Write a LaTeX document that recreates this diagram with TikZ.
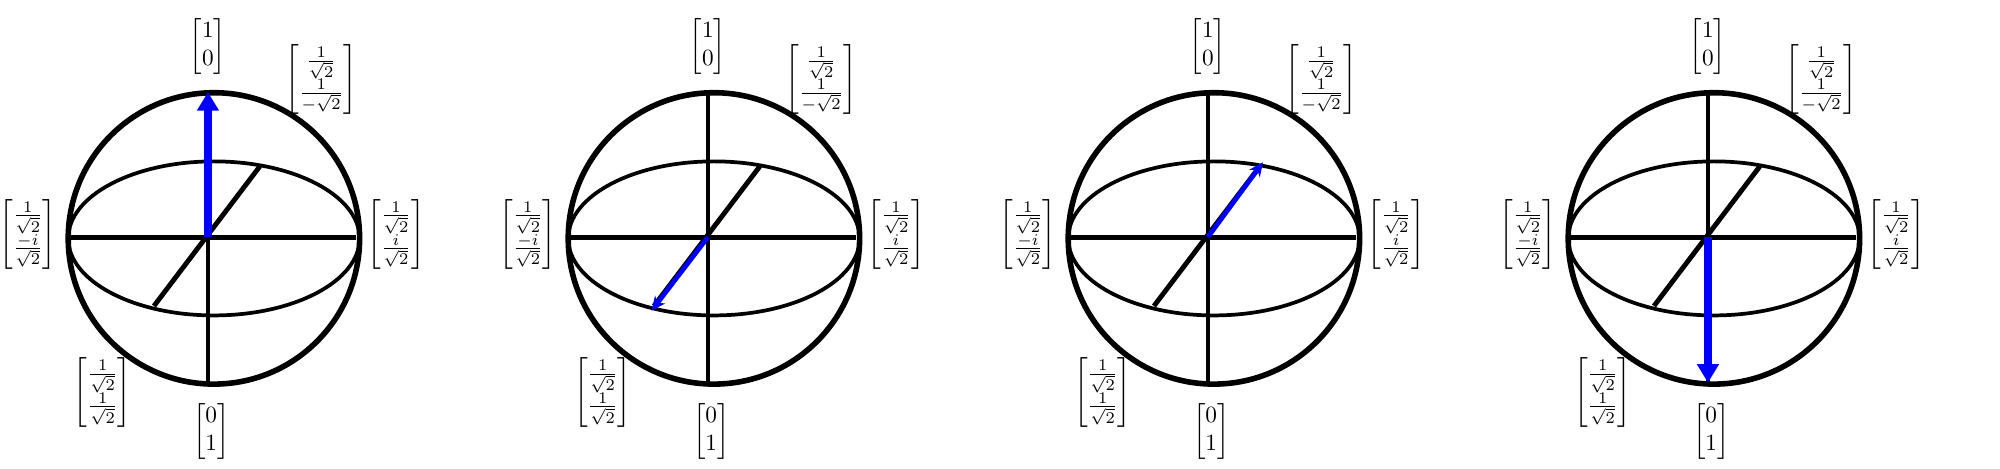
\documentclass[tikz,border=0pt]{standalone}
\usepackage{amssymb, amsmath}
\usepackage{tikz}
\usetikzlibrary{arrows.meta}
\newcommand*{\rad}{2.2}

\begin{document}
\begin{tikzpicture}[
   sphere/.style={draw=black, line width=2.4pt},
   equator/.style={draw=black, line width=1.6pt},
   axis/.style={draw=black, line width=2.1pt},
   vecbig/.style={blue, line width=3.4pt, -{Triangle[length=8pt, width=9pt]}},
   vecsmall/.style={blue, line width=2pt, -{Stealth[length=6pt, width=5.5pt]}},
   ket/.style={inner sep=0pt, text=black}
  ]

  % Sphere spacing
  \pgfmathsetmacro{\s}{7.55}
  \pgfmathsetmacro{\b}{1.163}

  \useasboundingbox (-3.14, -3.50) rectangle (27.06, 3.58);

  \foreach \k/\tip/\vs in {0/N/vecbig, 1/f/vecsmall, 2/b/vecsmall, 3/S/vecbig} {
  \begin{scope}[shift={(\k * \s, 0)}]
    \coordinate (C) at (0.09, -0.02);
    \coordinate (O) at (0, 0);
    \coordinate (N) at (0, 2.19);
    \coordinate (S) at (0, -2.2);
    \coordinate (W) at (-2.11, 0);
    \coordinate (E) at (2.23, 0);
    \coordinate (B) at (0.785, 1.07);
    \coordinate (F) at (-0.815, -1.04);
    \coordinate (b) at (0.83, 1.13);
    \coordinate (f) at (-0.85, -1.11);

    \draw[sphere] (C) circle (\rad);
    \draw[equator] (C) ellipse ({\rad} and {\b});

    \foreach \P/\Q in {W/E, N/S, F/B} {
      \draw[axis] (\P) -- (\Q);
    }

    \draw[\vs] (O) -- (\tip);

    \node (up\k) at (0, 2.88) [ket] {$\begin{bmatrix}1\\0\end{bmatrix}$};
    \node (dn\k) at (0.05, -2.93) [ket] {$\begin{bmatrix}0\\1\end{bmatrix}$};
    \node (pi\k) at (2.84, 0.04) [ket] {$\begin{bmatrix}\frac{1}{\sqrt{2}}\\\frac{i}{\sqrt{2}}\end{bmatrix}$};
    \node (mi\k) at (-2.72, 0.04) [ket] {$\begin{bmatrix}\frac{1}{\sqrt{2}}\\\frac{-i}{\sqrt{2}}\end{bmatrix}$};
    \node (mn\k) at (1.71, 2.38) [ket] {$\begin{bmatrix}\frac{1}{\sqrt{2}}\\\frac{1}{-\sqrt{2}}\end{bmatrix}$};
    \node (pl\k) at (-1.59, -2.35) [ket] {$\begin{bmatrix}\frac{1}{\sqrt{2}}\\\frac{1}{\sqrt{2}}\end{bmatrix}$};
  \end{scope}
  }

\end{tikzpicture}
\end{document}
